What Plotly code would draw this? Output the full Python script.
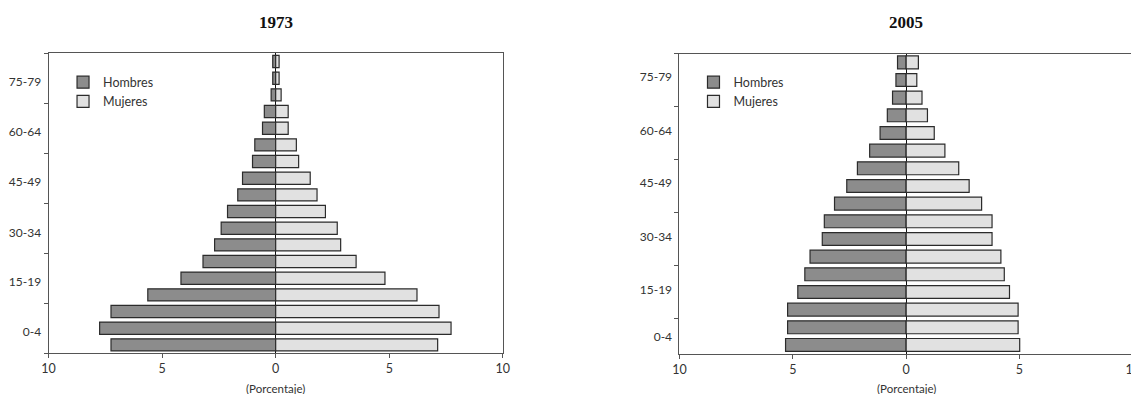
import plotly.graph_objects as go

# ---------------- data ----------------
ages_1973 = ["0-4", "5-9", "10-14", "15-19", "20-24", "25-29", "30-34", "35-39",
             "40-44", "45-49", "50-54", "55-59", "60-64", "65-69", "70-74",
             "75-79", "80-84", "85+"]
hombres_1973 = [7.25, 7.75, 7.25, 5.63, 4.17, 3.20, 2.69, 2.40, 2.12, 1.67,
                1.46, 1.02, 0.92, 0.58, 0.50, 0.20, 0.13, 0.13]
mujeres_1973 = [7.13, 7.72, 7.19, 6.22, 4.81, 3.54, 2.86, 2.71, 2.19, 1.82,
                1.52, 1.01, 0.91, 0.55, 0.55, 0.24, 0.15, 0.15]

ages_2005 = ["0-4", "5-9", "10-14", "15-19", "20-24", "25-29", "30-34", "35-39",
             "40-44", "45-49", "50-54", "55-59", "60-64", "65-69", "70-74",
             "75-79", "80+"]
hombres_2005 = [5.32, 5.23, 5.23, 4.78, 4.47, 4.24, 3.70, 3.61, 3.16, 2.62,
                2.15, 1.61, 1.15, 0.83, 0.60, 0.45, 0.38]
mujeres_2005 = [5.01, 4.94, 4.94, 4.56, 4.33, 4.18, 3.79, 3.79, 3.33, 2.78,
                2.32, 1.71, 1.24, 0.94, 0.70, 0.47, 0.54]

x_tick_vals = [-10, -5, 0, 5, 10]
x_tick_text = ["10", "5", "0", "5", "10"]

# ---------------- style ----------------
W, H = 1139, 394
# observed page placement of the figure (page margin / viewport effects)
X_SCALE, X_OFF, Y_OFF = 0.987, 15.0, 7.5
SANS = "Lato, 'Open Sans', sans-serif"
SERIF = "'Liberation Serif', 'DejaVu Serif', serif"
MEN_FILL, WOMEN_FILL, EDGE = "#8c8c8c", "#e1e1e1", "#2b2b2b"
AXIS = "#555555"
LABEL_STEP = 3


def px_x(v):
    return ((v - X_OFF) / X_SCALE) / W


def px_y(v):
    return 1 - (v - Y_OFF) / H


panels = [
    dict(year="1973", ages=ages_1973, men=hombres_1973, women=mujeres_1973,
         xdom=(48.5, 502.5), ydom=(52.7, 352.7),
         label_pos=[0.76, 3.81, 6.75, 9.8, 12.8, 15.8], tick_first=-0.5,
         legend=(63, 67)),
    dict(year="2005", ages=ages_2005, men=hombres_2005, women=mujeres_2005,
         xdom=(679, 1132), ydom=(53, 353.3),
         label_pos=[0.44, 3.13, 6.15, 9.17, 12.15, 15.17], tick_first=1.5,
         legend=(693, 67)),
]

fig = go.Figure()
layout = dict(
    width=W, height=H, margin=dict(l=0, r=0, t=0, b=0),
    paper_bgcolor="white", plot_bgcolor="white",
    barmode="overlay",
    font=dict(family=SANS, size=12, color="#333333"),
    annotations=[],
)

for i, p in enumerate(panels, start=1):
    sfx = "" if i == 1 else str(i)
    xa, ya = "x" + sfx, "y" + sfx
    leg = "legend" + sfx
    ypos = list(range(len(p["ages"])))
    fig.add_trace(go.Bar(
        y=ypos, x=[-v for v in p["men"]], orientation="h", name="Hombres",
        customdata=p["men"], text=p["ages"],
        hovertemplate="%{text}: %{customdata}%<extra>Hombres</extra>",
        marker=dict(color=MEN_FILL, line=dict(color=EDGE, width=1.2)),
        width=0.73, xaxis=xa, yaxis=ya, legend=leg, textposition="none"))
    fig.add_trace(go.Bar(
        y=ypos, x=p["women"], orientation="h", name="Mujeres",
        text=p["ages"],
        hovertemplate="%{text}: %{x}%<extra>Mujeres</extra>",
        marker=dict(color=WOMEN_FILL, line=dict(color=EDGE, width=1.2)),
        width=0.73, xaxis=xa, yaxis=ya, legend=leg, textposition="none"))

    n = len(p["ages"])
    minor_vals = []
    t = p["tick_first"]
    while t <= n - 0.5 + 1e-9:
        minor_vals.append(t)
        t += LABEL_STEP
    layout["xaxis" + sfx] = dict(
        domain=[px_x(p["xdom"][0]), px_x(p["xdom"][1])], anchor=ya,
        range=[-10, 10], tickvals=x_tick_vals, ticktext=x_tick_text,
        ticks="outside", ticklen=4, tickcolor=AXIS, tickwidth=1,
        showline=True, linecolor=AXIS, linewidth=1, mirror=True,
        showgrid=False, zeroline=True, zerolinecolor="#111111", zerolinewidth=1,
        tickfont=dict(size=12.5, color="#333333"), fixedrange=True)
    layout["yaxis" + sfx] = dict(
        domain=[px_y(p["ydom"][1]), px_y(p["ydom"][0])], anchor=xa,
        range=[-0.5, n - 0.5],
        tickvals=p["label_pos"], ticktext=p["ages"][::LABEL_STEP],
        ticks="outside", ticklen=4, tickcolor="rgba(0,0,0,0)",
        minor=dict(tickvals=minor_vals, ticks="outside", ticklen=4,
                   tickcolor=AXIS, tickwidth=1),
        showline=True, linecolor=AXIS, linewidth=1, mirror=True,
        showgrid=False, zeroline=False,
        tickfont=dict(size=12, color="#333333"), fixedrange=True)
    layout[leg] = dict(
        x=px_x(p["legend"][0]), y=px_y(p["legend"][1]),
        xanchor="left", yanchor="top", bgcolor="rgba(0,0,0,0)",
        font=dict(size=12.5, color="#333333"), traceorder="normal",
        itemwidth=30, tracegroupgap=0)
    layout["annotations"].append(dict(
        text="<b>" + p["year"] + "</b>", xref=xa + " domain", x=0.5,
        yref="paper", y=px_y(22), xanchor="center", yanchor="middle",
        showarrow=False, font=dict(family=SERIF, size=17, color="#111111")))
    layout["annotations"].append(dict(
        text="(Porcentaje)", xref=xa + " domain", x=0.5,
        yref="paper", y=px_y(388), xanchor="center", yanchor="middle",
        showarrow=False, font=dict(size=11.5, color="#333333")))

fig.update_layout(**layout)
fig.write_html("out.html")
